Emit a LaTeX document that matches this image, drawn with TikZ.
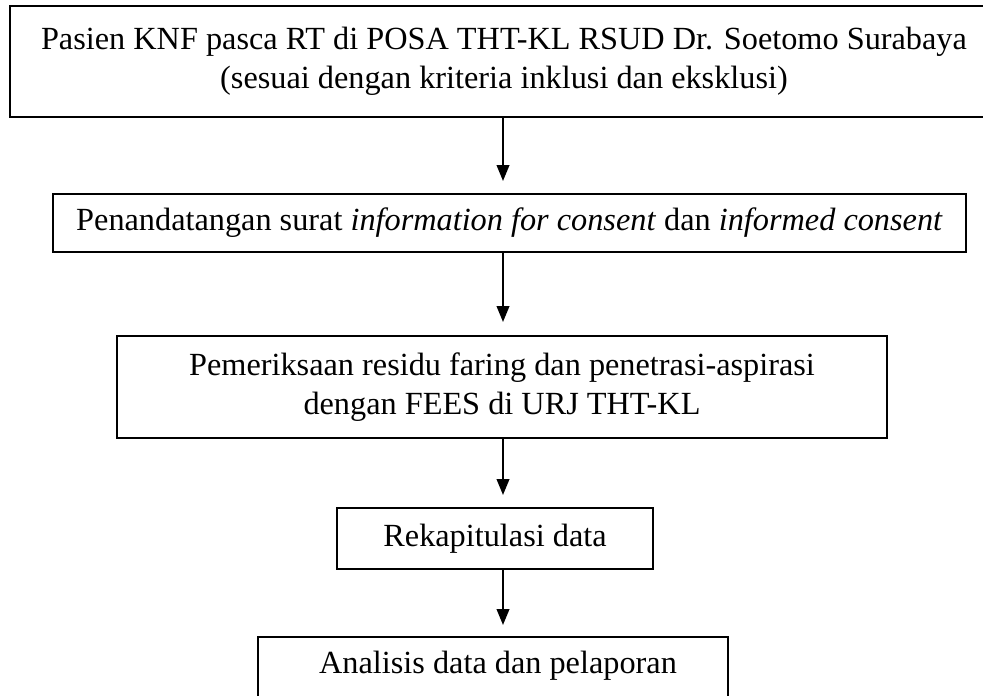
\documentclass[tikz,border=0pt]{standalone}
\usepackage{fontspec}
\setmainfont{Liberation Serif}
\usetikzlibrary{arrows.meta}
\begin{document}
\begin{tikzpicture}[x=0.35pt,y=-0.35pt,
  font=\fontsize{11.3}{13.8}\selectfont,
  box/.style={draw, line width=0.9pt, inner sep=0pt, align=center},
  thinbox/.style={box, line width=0.6pt},
  arr/.style={-{Triangle[length=5.6pt,width=4.4pt]}, line width=0.75pt}]
\useasboundingbox (0,0) rectangle (983,695);
\clip (0,0) rectangle (983,695);
\node[box, minimum width={988*0.35pt}, minimum height={111*0.35pt}] (b1) at (504,61.5)
  {Pasien KNF pasca RT di POSA THT-KL RSUD Dr. Soetomo Surabaya\\(sesuai dengan kriteria inklusi dan eksklusi)};
\node[box, minimum width={913*0.35pt}, minimum height={58*0.35pt}] (b2) at (509.5,223)
  {Penandatangan surat \textit{information for consent} dan \textit{informed consent}};
\node[box, minimum width={770*0.35pt}, minimum height={102*0.35pt}] (b3) at (502,387)
  {Pemeriksaan residu faring dan penetrasi-aspirasi\\dengan FEES di URJ THT-KL};
\node[thinbox, minimum width={316*0.35pt}, minimum height={61*0.35pt}] (b4) at (495,538.5)
  {Rekapitulasi data};
\node[box, minimum width={470*0.35pt}, minimum height={110*0.35pt}] (b5) at (493,692)
  {};
\node (t5) at (498,666) {Analisis data dan pelaporan};
\coordinate (a1s) at (503,117);
\coordinate (a1e) at (503,181);
\coordinate (a2s) at (503,252);
\coordinate (a2e) at (503,322);
\coordinate (a3s) at (503,438);
\coordinate (a3e) at (503,495);
\coordinate (a4s) at (503,569);
\coordinate (a4e) at (503,625);
\draw[arr] (b1.south -| a1s) -- (a1e);
\draw[arr] (b2.south -| a2s) -- (a2e);
\draw[arr] (b3.south -| a3s) -- (a3e);
\draw[arr] (b4.south -| a4s) -- (a4e);
\end{tikzpicture}
\end{document}
